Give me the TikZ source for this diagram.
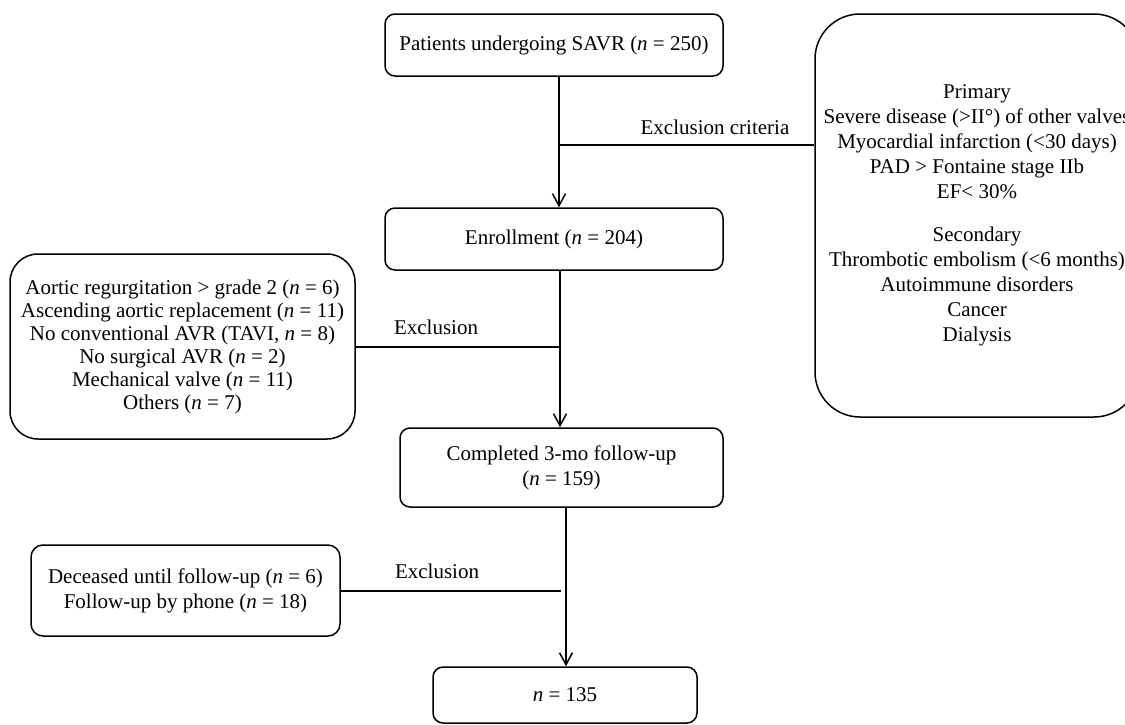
\documentclass[tikz,border=0pt]{standalone}
\usepackage{fontspec}
\setmainfont{Liberation Serif}
\usetikzlibrary{arrows.meta}
\begin{document}
\begin{tikzpicture}[x=0.5pt, y=-0.5pt, >={Straight Barb[length=6pt,width=6.5pt]}, line width=0.75pt,
    every node/.style={font=\fontsize{10.5}{12.5}\selectfont},
    box/.style={draw, rounded corners=5pt, align=center, inner sep=0pt}]
\useasboundingbox (0,0) rectangle (1125,724);
\clip (0,0) rectangle (1125,724);

\node[box, minimum width=169pt, minimum height=31pt] (savr) at (554,45) {Patients undergoing SAVR (\textit{n} = 250)};
\node[box, minimum width=169pt, minimum height=31pt] (enroll) at (554,239) {Enrollment (\textit{n} = 204)};
\node[box, minimum width=161.5pt, minimum height=39.5pt] (compl) at (561.5,467.5) {Completed 3-mo follow-up\\(\textit{n} = 159)};
\node[box, minimum width=132pt, minimum height=28pt] (final) at (565,695) {\textit{n} = 135};

\node[box, rounded corners=22.5pt, minimum width=162pt, minimum height=201.5pt] (crit) at (977,215.5) {Primary\\Severe disease (>II°) of other valves\\Myocardial infarction (<30 days)\\PAD > Fontaine stage IIb\\EF< 30\%\\[9pt]Secondary\\Thrombotic embolism (<6 months)\\Autoimmune disorders\\Cancer\\Dialysis};
\node[box, rounded corners=14pt, minimum width=172.5pt, minimum height=92.5pt, font=\fontsize{10.5}{11.5}\selectfont] (excl1) at (182.5,346.5) {Aortic regurgitation > grade 2 (\textit{n} = 6)\\Ascending aortic replacement (\textit{n} = 11)\\No conventional AVR (TAVI, \textit{n} = 8)\\No surgical AVR (\textit{n} = 2)\\Mechanical valve (\textit{n} = 11)\\Others (\textit{n} = 7)};
\node[box, rounded corners=6pt, minimum width=154.5pt, minimum height=45.5pt] (excl2) at (185.5,590.5) {Deceased until follow-up (\textit{n} = 6)\\Follow-up by phone (\textit{n} = 18)};

\node (lab1) at (715,127) {Exclusion criteria};
\node (lab2) at (436,327) {Exclusion};
\node (lab3) at (437,571) {Exclusion};

\coordinate (j1) at (559,145);
\coordinate (j2) at (560,347);
\coordinate (j3) at (566,591);

\draw[->] (savr.south -| j1)--(enroll.north -| j1);
\draw (crit.west |- j1)--(j1);
\draw[->] (enroll.south -| j2)--(compl.north -| j2);
\draw (excl1.east |- j2)--(j2);
\draw[->] (compl.south -| j3)--(final.north -| j3);
\draw (excl2.east |- j3)--([xshift=-2.5pt]j3);

\end{tikzpicture}
\end{document}
